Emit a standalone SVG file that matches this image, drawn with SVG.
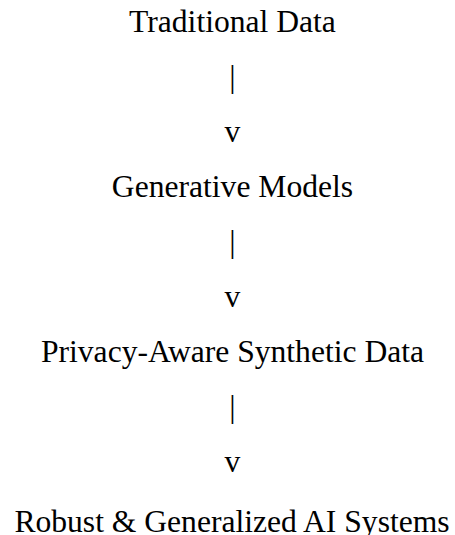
<svg xmlns="http://www.w3.org/2000/svg" width="455" height="535" viewBox="0 0 455 535">
<style>
text{font-family:"Liberation Serif","Times New Roman",serif;font-size:31.6px;fill:#000;text-anchor:middle}
</style>
<rect width="455" height="535" fill="#fff"/>
<g id="n1"><text x="232.5" y="32.3">Traditional Data</text></g>
<g id="connectors">
<text x="232.5" y="87.3">|</text>
<text x="232.5" y="142.3">v</text>
<text x="232.5" y="252.3">|</text>
<text x="232.5" y="307.3">v</text>
<text x="232.5" y="417.3">|</text>
<text x="232.5" y="472.3">v</text>
</g>
<g id="n2"><text x="232.5" y="197.3">Generative Models</text></g>
<g id="n3"><text x="232.5" y="362.3">Privacy-Aware Synthetic Data</text></g>
<g id="n4"><text x="232" y="532.3">Robust &amp; Generalized AI Systems</text></g>
</svg>
